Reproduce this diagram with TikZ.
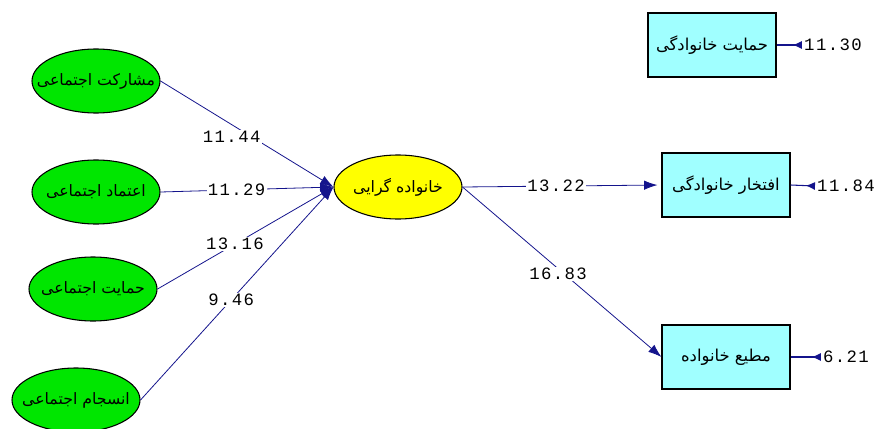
\documentclass[tikz,border=0pt]{standalone}
\usepackage{fontspec}
\usetikzlibrary{arrows.meta,shapes.geometric}
\TeXXeTstate=1
\newfontfamily\farsifont[Script=Arabic]{DejaVu Sans}
\newfontfamily\coeffont[LetterSpace=8]{Liberation Mono}
\definecolor{latgreen}{RGB}{0,230,0}
\definecolor{latyellow}{RGB}{255,255,0}
\definecolor{obscyan}{RGB}{160,255,255}
\definecolor{pathblue}{RGB}{20,20,140}
\newcommand{\fa}[1]{{\farsifont\beginR #1\endR}}

\begin{document}
\begin{tikzpicture}[x=0.75pt,y=0.75pt,yscale=-1,xscale=1,
  latent/.style={ellipse,draw=black,line width=0.8pt,minimum width=96pt,minimum height=48pt,inner xsep=-16pt,inner ysep=0pt,font=\fontsize{11.8}{12}\selectfont},
  observed/.style={rectangle,draw=black,line width=0.8pt,fill=obscyan,minimum width=96pt,minimum height=48pt,inner sep=0pt,font=\fontsize{12.3}{12}\selectfont},
  coef/.style={fill=white,inner sep=1pt,font=\coeffont\fontsize{13}{13}\selectfont},
  errnum/.style={inner sep=0pt,font=\coeffont\fontsize{13}{13}\selectfont},
  path/.style={draw=pathblue,line width=0.6pt,-{Latex[length=10pt,width=7pt]}},
  errpath/.style={draw=pathblue,line width=0.8pt,{Latex[reversed,length=7pt,width=6pt]}-}
]
\useasboundingbox (0,0) rectangle (877,428);
\clip (0,0) rectangle (877,428);

%Shape: Ellipse
\node[latent,fill=latgreen] (mosharekat) at (96,81) {\fa{مشارکت اجتماعی}};
%Shape: Ellipse
\node[latent,fill=latgreen] (etemad) at (96,192) {\fa{اعتماد اجتماعی}};
%Shape: Ellipse
\node[latent,fill=latgreen] (hemayat) at (93,289) {\fa{حمایت اجتماعی}};
%Shape: Ellipse
\node[latent,fill=latgreen] (ensejam) at (76,400) {\fa{انسجام اجتماعی}};
%Shape: Ellipse
\node[latent,fill=latyellow] (gerayi) at (398,187) {\fa{خانواده گرایی}};

%Shape: Rectangle
\node[observed] (hemayatkh) at (712,45) {\fa{حمایت خانوادگی}};
%Shape: Rectangle
\node[observed] (eftekhar) at (726,185) {\fa{افتخار خانوادگی}};
%Shape: Rectangle
\node[observed] (moti) at (726,357) {\fa{مطیع خانواده}};

%Straight Lines
\draw[path] (mosharekat.east) -- node[coef,pos=0.45,xshift=-5pt,yshift=-6pt] (w1) {11.44} (gerayi.west);
%Straight Lines
\draw[path] (etemad.east) -- node[coef,pos=0.44] (w2) {11.29} (gerayi.west);
%Straight Lines
\draw[path] (hemayat.east) -- node[coef,pos=0.44] (w3) {13.16} (gerayi.west);
%Straight Lines
\draw[path] (ensejam.east) -- node[coef,pos=0.47] (w4) {9.46} (gerayi.west);
%Straight Lines
\draw[path,shorten >=3pt] (gerayi.east) -- node[coef,pos=0.47] (w5) {13.22} (eftekhar.west);
%Straight Lines
\draw[path] (gerayi.east) -- node[coef,pos=0.48,yshift=-4pt] (w6) {16.83} (moti.west);

% Text Node
\node[errnum] (e1) at (833,45) {11.30};
% Text Node
\node[errnum] (e2) at (846,186) {11.84};
% Text Node
\node[errnum] (e3) at (846,357) {6.21};

%Straight Lines
\draw[errpath] (e1.west) ++(-2,0) -- (hemayatkh.east);
\draw[errpath] (e2.west) ++(-2,0) -- (eftekhar.east);
\draw[errpath] (e3.west) ++(-2,0) -- (moti.east);

\end{tikzpicture}
\end{document}
